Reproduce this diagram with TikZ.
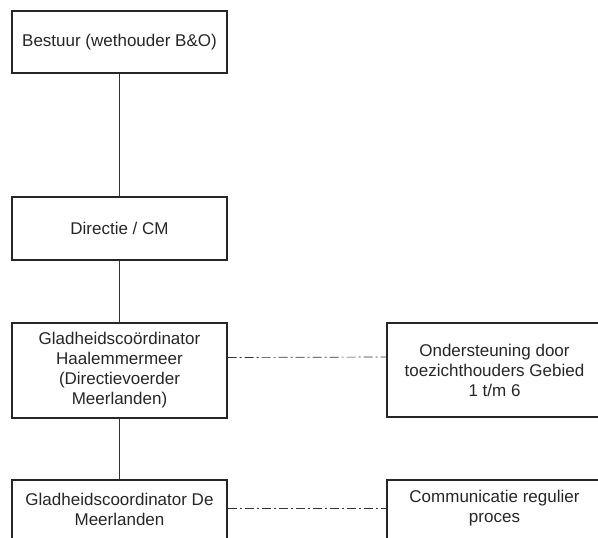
\documentclass[tikz,border=0pt]{standalone}
\usepackage{fontspec}
\setmainfont{Liberation Sans}
\begin{document}
\begin{tikzpicture}[x=1pt,y=1pt,
  box/.style={draw=black!85,line width=1.1pt,rectangle,minimum width=215pt,inner sep=0pt,align=center,
    font=\fontsize{17}{20}\selectfont,text=black!85},
  txt/.style={inner sep=0pt,align=center,font=\fontsize{17}{20}\selectfont,text=black!85},
  link/.style={draw=black!80,line width=0.7pt},
  dlink/.style={draw=black!80,line width=0.7pt,dash pattern=on 9pt off 3pt on 2pt off 3pt}]
\useasboundingbox (0,0) rectangle (598,-538);
\clip (0,0) rectangle (598,-538);
\node[box,minimum height=62pt] (b1) at (119.5,-42) {Bestuur (wethouder B\&O)};
\node[box,minimum height=63pt] (b2) at (119.5,-228.5) {Directie / CM};
\node[box,minimum height=95pt] (b3) at (119.5,-370.5) {Gladheidscoördinator\\Haalemmermeer\\(Directievoerder\\Meerlanden)};
\node[box,minimum height=94pt] (r3) at (494.5,-370) {Ondersteuning door\\toezichthouders Gebied\\1 t/m 6};
\node[box,minimum height=100pt] (b4) at (119.5,-530) {};
\node[txt] (b4t) at (119.5,-509) {Gladheidscoordinator De\\Meerlanden};
\node[box,minimum height=100pt] (r4) at (494.5,-530) {};
\node[txt] (r4t) at (494.5,-508) {Communicatie regulier\\proces};
\draw[link] (b1.south) -- (b2.north);
\draw[link] (b2.south) -- (b3.north);
\draw[link] (b3.south) -- (b4.north);
\draw[dlink] ([yshift=13pt]b3.east) -- ([yshift=13pt]r3.west);
\draw[dlink] ([yshift=-29pt]b4.north east) -- ([yshift=-29pt]r4.north west);
\end{tikzpicture}
\end{document}
